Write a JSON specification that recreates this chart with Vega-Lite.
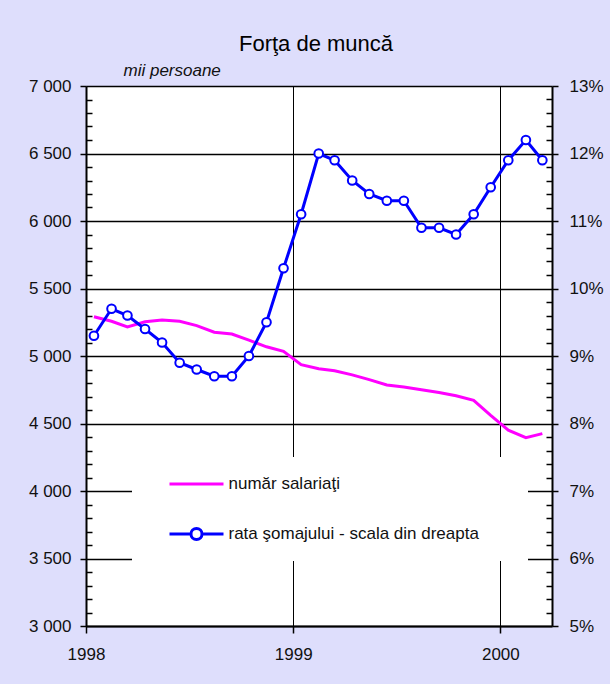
{
  "$schema": "https://vega.github.io/schema/vega-lite/v6.json",
  "width": 466,
  "height": 540,
  "autosize": {"type": "none"},
  "padding": {"left": 86, "top": 86, "right": 58, "bottom": 58},
  "background": "#DEDEFC",
  "view": {"fill": "white", "stroke": null},
  "title": {
    "text": "Forţa de muncă",
    "font": "Liberation Sans",
    "fontSize": 22,
    "fontWeight": "normal",
    "color": "black",
    "anchor": "middle",
    "frame": "group",
    "baseline": "alphabetic",
    "offset": -12,
    "dx": -3
  },
  "data": {
    "values": [
      {"date": "1998-01-15", "salariati": 5291, "rata": 9.3},
      {"date": "1998-02-15", "salariati": 5257, "rata": 9.7},
      {"date": "1998-03-15", "salariati": 5216, "rata": 9.6},
      {"date": "1998-04-15", "salariati": 5254, "rata": 9.4},
      {"date": "1998-05-15", "salariati": 5267, "rata": 9.2},
      {"date": "1998-06-15", "salariati": 5257, "rata": 8.9},
      {"date": "1998-07-15", "salariati": 5225, "rata": 8.8},
      {"date": "1998-08-15", "salariati": 5176, "rata": 8.7},
      {"date": "1998-09-15", "salariati": 5163, "rata": 8.7},
      {"date": "1998-10-15", "salariati": 5117, "rata": 9.0},
      {"date": "1998-11-15", "salariati": 5068, "rata": 9.5},
      {"date": "1998-12-15", "salariati": 5035, "rata": 10.3},
      {"date": "1999-01-15", "salariati": 4936, "rata": 11.1},
      {"date": "1999-02-15", "salariati": 4906, "rata": 12.0},
      {"date": "1999-03-15", "salariati": 4891, "rata": 11.9},
      {"date": "1999-04-15", "salariati": 4860, "rata": 11.6},
      {"date": "1999-05-15", "salariati": 4825, "rata": 11.4},
      {"date": "1999-06-15", "salariati": 4785, "rata": 11.3},
      {"date": "1999-07-15", "salariati": 4770, "rata": 11.3},
      {"date": "1999-08-15", "salariati": 4750, "rata": 10.9},
      {"date": "1999-09-15", "salariati": 4730, "rata": 10.9},
      {"date": "1999-10-15", "salariati": 4705, "rata": 10.8},
      {"date": "1999-11-15", "salariati": 4672, "rata": 11.1},
      {"date": "1999-12-15", "salariati": 4560, "rata": 11.5},
      {"date": "2000-01-15", "salariati": 4450, "rata": 11.9},
      {"date": "2000-02-15", "salariati": 4395, "rata": 12.2},
      {"date": "2000-03-15", "salariati": 4425, "rata": 11.9}
    ]
  },
  "layer": [
    {
      "mark": {"type": "line", "strokeWidth": 3},
      "encoding": {
        "x": {
          "field": "date",
          "type": "temporal",
          "scale": {
            "type": "utc",
            "domain": [
              {"year": 1998, "month": 1, "date": 1, "utc": true},
              {"year": 2000, "month": 4, "date": 1, "utc": true}
            ]
          },
          "axis": {
            "title": null,
            "values": [
              {"year": 1998, "month": 1, "date": 1, "utc": true},
              {"year": 1999, "month": 1, "date": 1, "utc": true},
              {"year": 2000, "month": 1, "date": 1, "utc": true}
            ],
            "labelExpr": "utcFormat(datum.value, '%Y')",
            "labelFont": "Liberation Sans",
            "labelFontSize": 17,
            "labelColor": "#111",
            "labelDx": 8,
            "labelPadding": 13,
            "labelFlush": false,
            "labelOverlap": false,
            "domainColor": "black",
            "domainWidth": 2,
            "tickColor": "black",
            "tickWidth": 1.5,
            "tickSize": 7,
            "grid": true,
            "gridColor": "black",
            "gridWidth": 1
          }
        },
        "y": {
          "field": "salariati",
          "type": "quantitative",
          "scale": {"domain": [3000, 7000], "nice": false, "zero": false},
          "axis": {
            "orient": "left",
            "title": "mii persoane",
            "titleAngle": 0,
            "titleFont": "Liberation Sans",
            "titleFontSize": 17,
            "titleFontStyle": "italic",
            "titleFontWeight": "normal",
            "titleColor": "#111",
            "titleAlign": "left",
            "titleBaseline": "alphabetic",
            "titleX": 37,
            "titleY": -11,
            "values": [3000,3100,3200,3300,3400,3500,3600,3700,3800,3900,4000,4100,4200,4300,4400,4500,4600,4700,4800,4900,5000,5100,5200,5300,5400,5500,5600,5700,5800,5900,6000,6100,6200,6300,6400,6500,6600,6700,6800,6900,7000],
            "labelExpr": "datum.value % 500 === 0 ? replace(format(datum.value, ','), ',', ' ') : ''",
            "labelFont": "Liberation Sans",
            "labelFontSize": 17,
            "labelColor": "#111",
            "labelPadding": 9,
            "labelOverlap": false,
            "domainColor": "black",
            "domainWidth": 2,
            "tickColor": "black",
            "tickWidth": 1.5,
            "tickSize": {"condition": {"test": "datum.value % 500 === 0", "value": 6}, "value": -6},
            "grid": true,
            "gridColor": "black",
            "gridWidth": 1.5,
            "gridOpacity": {"condition": {"test": "datum.value % 500 === 0", "value": 1}, "value": 0}
          }
        },
        "color": {
          "datum": "număr salariaţi",
          "type": "nominal",
          "scale": {
            "domain": ["număr salariaţi", "rata şomajului - scala din dreapta"],
            "range": ["#FF00FF", "#0000FF"]
          },
          "legend": {
            "title": null,
            "orient": "none",
            "legendX": 46,
            "legendY": 371,
            "fillColor": "white",
            "strokeColor": null,
            "padding": 12,
            "rowPadding": 27,
            "symbolSize": 729,
            "symbolStrokeWidth": 3,
            "symbolOffset": 37.5,
            "labelOffset": 17,
            "labelFont": "Liberation Sans",
            "labelFontSize": 17,
            "labelColor": "#111",
            "labelLimit": 400,
            "encode": {
              "symbols": {
                "update": {
                  "shape": {"signal": "datum.index === 0 ? 'M-2,0H2' : 'M-2,0H-0.41M0.41,0H2M0.41,0A0.41,0.41,0,1,1,-0.41,0A0.41,0.41,0,1,1,0.41,0ZM23.2,0.63'"},
                  "fill": {"value": "white"},
                  "fillOpacity": {"value": 1},
                  "stroke": {"signal": "datum.index === 0 ? '#FF00FF' : '#0000FF'"},
                  "strokeWidth": {"value": 3},
                  "opacity": {"value": 1}
                }
              }
            }
          }
        }
      }
    },
    {
      "mark": {
        "type": "line",
        "strokeWidth": 3,
        "point": {"filled": false, "fill": "white", "size": 75, "strokeWidth": 2}
      },
      "encoding": {
        "x": {"field": "date", "type": "temporal"},
        "y": {
          "field": "rata",
          "type": "quantitative",
          "scale": {"domain": [5, 13], "nice": false, "zero": false},
          "axis": {
            "orient": "right",
            "title": null,
            "values": [5,5.2,5.4,5.6,5.8,6,6.2,6.4,6.6,6.8,7,7.2,7.4,7.6,7.8,8,8.2,8.4,8.6,8.8,9,9.2,9.4,9.6,9.8,10,10.2,10.4,10.6,10.8,11,11.2,11.4,11.6,11.8,12,12.2,12.4,12.6,12.8,13],
            "labelExpr": "abs(datum.value - round(datum.value)) < 0.01 ? round(datum.value) + '%' : ''",
            "labelFont": "Liberation Sans",
            "labelFontSize": 17,
            "labelColor": "#111",
            "labelPadding": 11,
            "labelOverlap": false,
            "domainColor": "black",
            "domainWidth": 2,
            "tickColor": "black",
            "tickWidth": 1.5,
            "tickSize": {"condition": {"test": "abs(datum.value - round(datum.value)) < 0.01", "value": 6}, "value": -6},
            "grid": false
          }
        },
        "color": {"datum": "rata şomajului - scala din dreapta", "type": "nominal"}
      }
    }
  ],
  "resolve": {"scale": {"y": "independent"}}
}
